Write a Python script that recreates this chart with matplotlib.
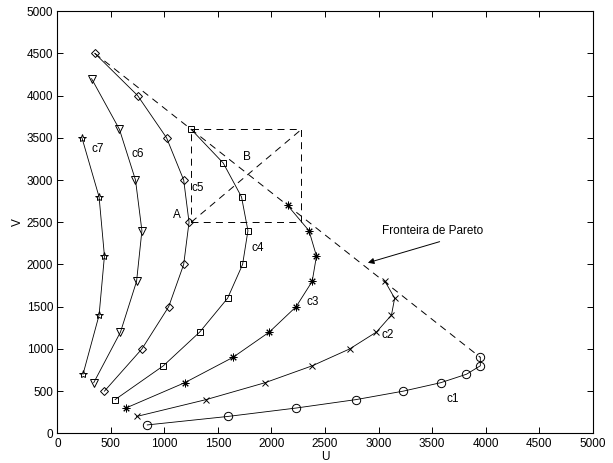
import matplotlib
matplotlib.use("Agg")
import matplotlib.pyplot as plt

plt.rcParams['font.family'] = ['Liberation Sans', 'DejaVu Sans']
plt.rcParams['lines.scale_dashes'] = False

# Data (U, V) for each curve
c1_u = [840, 1590, 2230, 2790, 3230, 3580, 3820, 3950, 3950]
c1_v = [100, 200, 300, 400, 500, 600, 700, 800, 900]
c2_u = [3060, 3150, 3120, 2980, 2730, 2380, 1940, 1390, 740]
c2_v = [1800, 1600, 1400, 1200, 1000, 800, 600, 400, 200]
c3_u = [2150, 2350, 2420, 2380, 2230, 1980, 1640, 1190, 640]
c3_v = [2700, 2400, 2100, 1800, 1500, 1200, 900, 600, 300]
c4_u = [1250, 1550, 1720, 1780, 1730, 1590, 1330, 990, 540]
c4_v = [3600, 3200, 2800, 2400, 2000, 1600, 1200, 800, 400]
c5_u = [350, 750, 1020, 1180, 1230, 1180, 1040, 790, 440]
c5_v = [4500, 4000, 3500, 3000, 2500, 2000, 1500, 1000, 500]
c6_u = [320, 580, 730, 790, 740, 590, 340]
c6_v = [4200, 3600, 3000, 2400, 1800, 1200, 600]
c7_u = [230, 390, 440, 390, 240]
c7_v = [3500, 2800, 2100, 1400, 700]

pareto_u = [350, 3950]
pareto_v = [4500, 900]

rect_u = [1250, 2280, 2280, 1250, 1250]
rect_v = [2500, 2500, 3600, 3600, 2500]
diag_u = [1250, 2280]
diag_v = [2500, 3600]

curve_labels = ['c1', 'c2', 'c3', 'c4', 'c5', 'c6', 'c7']
label_u = [3630, 3030, 2330, 1810, 1250, 690, 320]
label_v = [410, 1160, 1560, 2190, 2910, 3310, 3370]

xticks = list(range(0, 5001, 500))
yticks = list(range(0, 5001, 500))

fig = plt.figure(figsize=(6.13, 4.63), dpi=100)
ax = fig.add_axes([0.0935, 0.064, 0.8735, 0.912])

asterisk = (8, 2, 0)
curves = [(c1_u, c1_v, 'o', 6), (c2_u, c2_v, 'x', 4.5), (c3_u, c3_v, asterisk, 5.5),
          (c4_u, c4_v, 's', 4.2), (c5_u, c5_v, 'D', 4.3), (c6_u, c6_v, 'v', 6),
          (c7_u, c7_v, '*', 6)]
for u, v, m, ms in curves:
    ax.plot(u, v, color='black', lw=0.6, marker=m, markersize=ms,
            markerfacecolor='none', markeredgecolor='black', markeredgewidth=0.7)

dash = (0, (5, 3.8))
ax.plot(pareto_u, pareto_v, color='black', lw=0.7, linestyle=dash)
ax.plot(rect_u, rect_v, color='black', lw=0.7, linestyle=dash)
ax.plot(diag_u, diag_v, color='black', lw=0.7, linestyle=dash)

fs = 8.5
for t, x, y in zip(curve_labels, label_u, label_v):
    ax.text(x, y, t, fontsize=fs, ha='left', va='center')
ax.text(1120, 2580, 'A', fontsize=fs, ha='center', va='center')
ax.text(1770, 3270, 'B', fontsize=fs, ha='center', va='center')

ax.annotate('', xy=(2900, 2020), xytext=(3570, 2270),
            arrowprops=dict(arrowstyle='-|>', color='black', lw=0.7,
                            mutation_scale=9, shrinkA=0, shrinkB=0))
ax.text(3500, 2400, 'Fronteira de Pareto', fontsize=fs, ha='center', va='center')

ax.set_xlim(0, 5000)
ax.set_ylim(0, 5000)
ax.set_xticks(xticks)
ax.set_yticks(yticks)
ax.tick_params(direction='in', top=True, right=True, length=4, width=0.7,
               labelsize=fs, pad=3)
for s in ax.spines.values():
    s.set_linewidth(0.8)
ax.set_xlabel('U', fontsize=fs, labelpad=1)
ax.set_ylabel('V', fontsize=fs, labelpad=2)

fig.savefig('out.png', dpi=100)
